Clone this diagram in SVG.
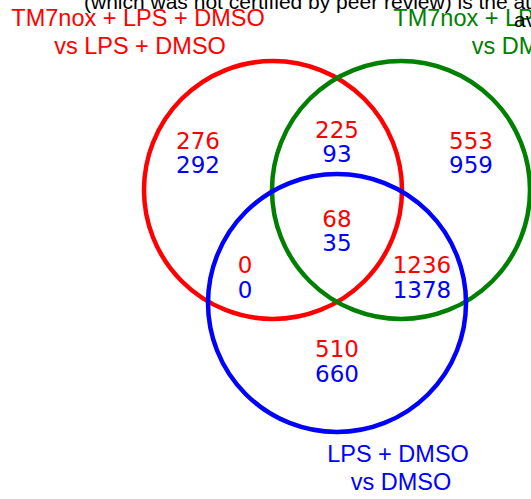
<svg xmlns="http://www.w3.org/2000/svg" width="531" height="499" viewBox="0 0 531 499">
<style>
.c{fill:none;stroke-width:4.5}
.lbl{font-family:"Liberation Sans",Arial,sans-serif;font-size:23.5px;text-anchor:middle}
.num{font-family:"DejaVu Sans",Verdana,sans-serif;font-size:23px;text-anchor:middle}
.r{fill:#ff0000}.g{fill:#008000}.b{fill:#0000ff}
.wm{font-family:"Liberation Sans",Arial,sans-serif;font-size:21px;fill:#000}
</style>
<rect width="531" height="499" fill="#fff"/>
<g id="circle-red"><circle class="c" cx="273" cy="190" r="129" stroke="#ff0000"/></g>
<g id="circle-green"><circle class="c" cx="401" cy="190" r="129" stroke="#008000"/></g>
<g id="circle-blue"><circle class="c" cx="337" cy="303" r="129" stroke="#0000ff"/></g>
<g id="label-red" class="lbl r"><text x="138" y="26">TM7nox + LPS + DMSO</text><text x="140" y="54">vs LPS + DMSO</text></g>
<g id="label-green" class="lbl g"><text x="520" y="26">TM7nox + LPS + DMSO</text><text x="522" y="54">vs DMSO</text></g>
<g id="label-blue" class="lbl b"><text x="398" y="462">LPS + DMSO</text><text x="401" y="490">vs DMSO</text></g>
<g id="counts" class="num">
<text class="r" x="198" y="149">276</text><text class="b" x="198" y="173">292</text>
<text class="r" x="337" y="138">225</text><text class="b" x="337" y="162">93</text>
<text class="r" x="471" y="149">553</text><text class="b" x="471" y="173">959</text>
<text class="r" x="337" y="227">68</text><text class="b" x="337" y="251">35</text>
<text class="r" x="245" y="273">0</text><text class="b" x="245" y="298">0</text>
<text class="r" x="422" y="273">1236</text><text class="b" x="422" y="298">1378</text>
<text class="r" x="337" y="357">510</text><text class="b" x="337" y="382">660</text>
</g>
<g id="watermark" class="wm">
<text x="84" y="9">(which was not certified by peer review) is the author/funder</text>
<text x="514" y="27">available</text>
</g>
</svg>
